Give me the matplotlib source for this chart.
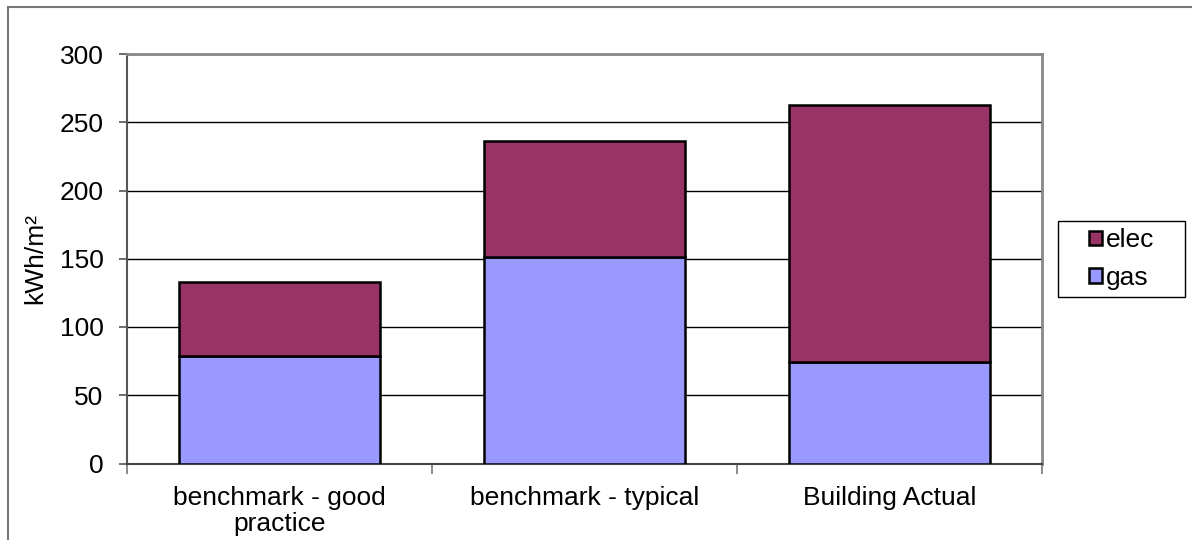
import numpy as np
import matplotlib.pyplot as plt
from matplotlib.patches import Rectangle

plt.rcParams['font.family'] = ['Liberation Sans', 'DejaVu Sans']

# Data
categories = ["benchmark - good\npractice", "benchmark - typical", "Building Actual"]
gas = [79, 151, 74]
elec = [54, 85, 189]

W, H = 1192, 540
fig = plt.figure(figsize=(W / 100, H / 100), dpi=100)

# outer chart frame (clipped on right / bottom like the original)
frame = Rectangle((8 / W, -0.1), 1.2, 1 - 7.5 / H + 0.1, transform=fig.transFigure,
                  fill=False, edgecolor='#777777', linewidth=1.5)
fig.patches.append(frame)

# legend box drawn separately, legend entries centred inside it
lx0, lx1, ly0, ly1 = 1058, 1185, 220.7, 297.3
legbox = Rectangle((lx0 / W, (H - ly1) / H), (lx1 - lx0) / W, (ly1 - ly0) / H,
                   transform=fig.transFigure, fill=False, edgecolor='black',
                   linewidth=1.0)
fig.patches.append(legbox)

ax = fig.add_axes([127 / W, (H - 463.5) / H, (1042 - 127) / W, (463.5 - 54) / H])

x = np.arange(len(categories))
ax.bar(x, gas, width=0.66, color='#9999FF', edgecolor='black', linewidth=1.8,
       label='gas', zorder=3)
ax.bar(x, elec, width=0.66, bottom=gas, color='#993366', edgecolor='black',
       linewidth=1.8, label='elec', zorder=3)

ax.set_xlim(-0.5, len(categories) - 0.5)
ax.set_ylim(0, 300)
ax.set_yticks(np.arange(0, 301, 50))
ax.yaxis.grid(True, color='black', linewidth=1.0, zorder=1)
ax.set_axisbelow(True)

ax.set_xticks(x)
ax.set_xticklabels(categories, fontsize=19, linespacing=1.12)
ax.tick_params(axis='x', length=0, pad=16)
ax.set_xticks(np.arange(-0.5, len(categories), 1), minor=True)
ax.tick_params(axis='x', which='minor', length=7, width=1.2, color='#777777',
               direction='out')
ax.tick_params(axis='y', labelsize=19, length=6, width=1.2, color='#555555', pad=11)

for side in ['top', 'right']:
    ax.spines[side].set_color('#888888')
    ax.spines[side].set_linewidth(2)
ax.spines['left'].set_color('#555555')
ax.spines['left'].set_linewidth(1.5)
ax.spines['bottom'].set_color('#444444')
ax.spines['bottom'].set_linewidth(1.5)

ax.set_ylabel("kWh/m²", fontsize=19, labelpad=9)

handles, labels = ax.get_legend_handles_labels()
leg = ax.legend(handles[::-1], labels[::-1], loc='center',
                bbox_to_anchor=((lx0 + lx1) / 2 / W, (H - (ly0 + ly1) / 2) / H),
                bbox_transform=fig.transFigure, fontsize=19,
                frameon=False, borderpad=0,
                handlelength=0.48, handleheight=0.48, handletextpad=0.15,
                labelspacing=0.5, borderaxespad=0)

fig.savefig("out.png", dpi=100)
